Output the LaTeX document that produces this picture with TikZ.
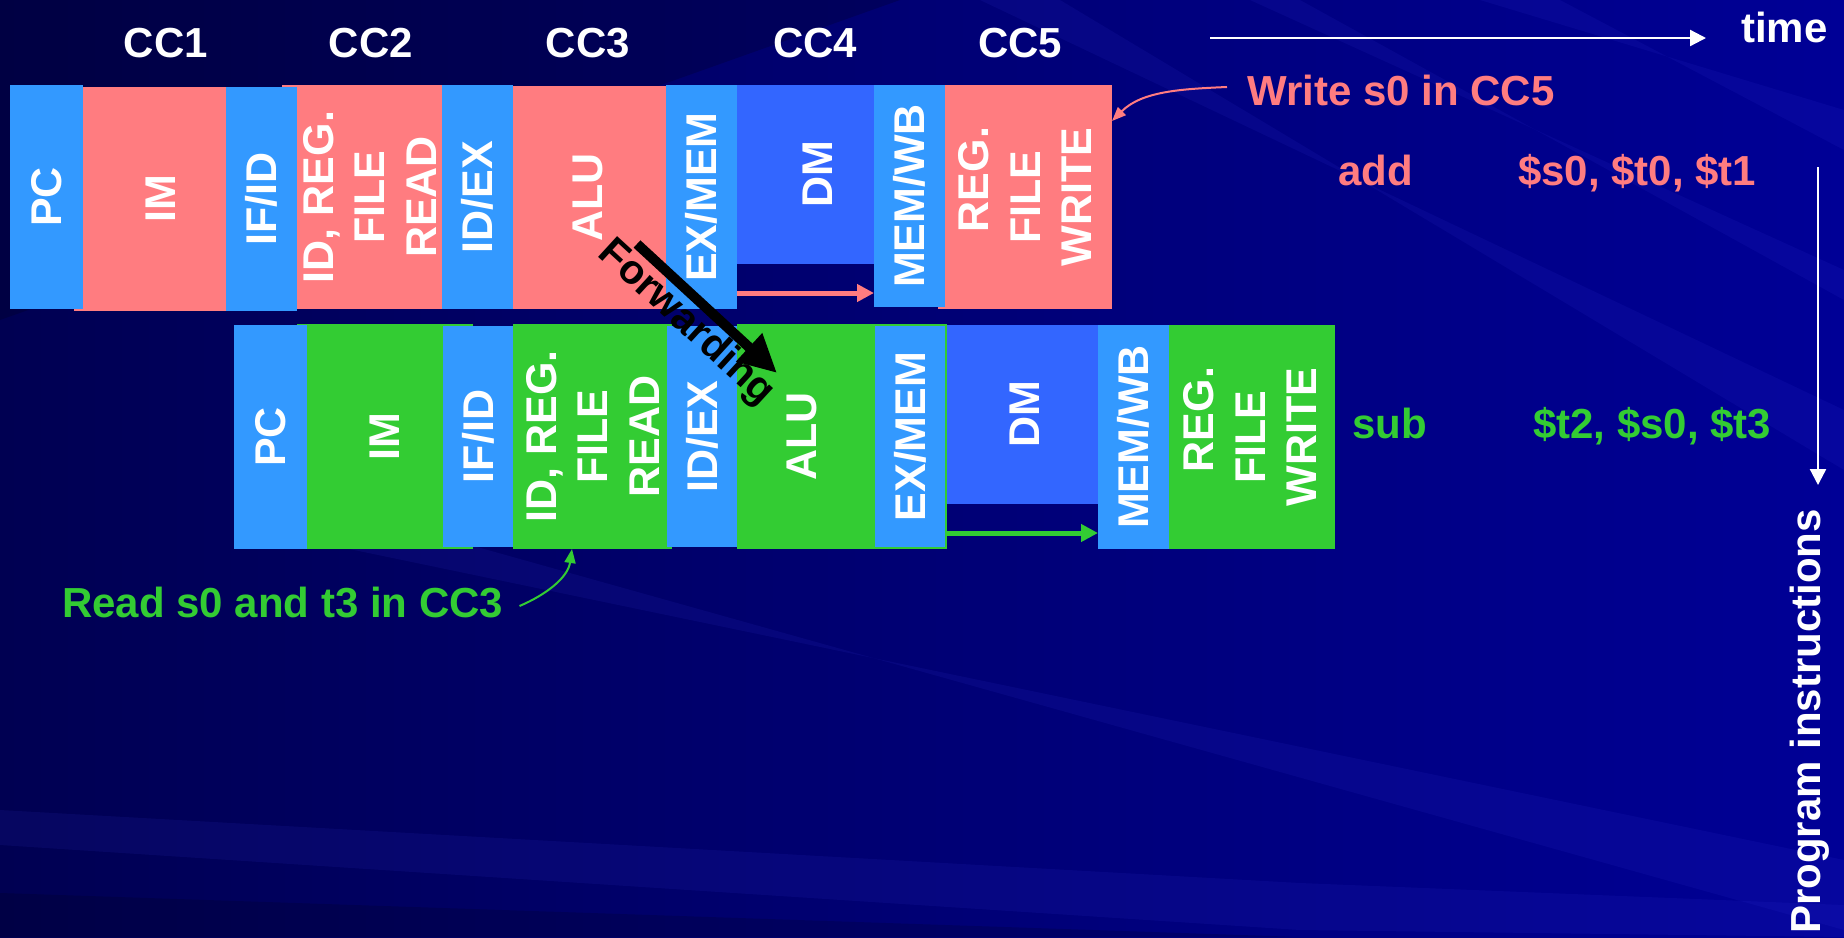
\documentclass[tikz,border=0pt]{standalone}
\usepackage{fontspec}
\setmainfont{Liberation Sans}
\usetikzlibrary{arrows.meta,calc}

\definecolor{regblue}{HTML}{3399FF}
\definecolor{dmblue}{HTML}{3366FF}
\definecolor{stpink}{HTML}{FF7C80}
\definecolor{stgreen}{HTML}{33CC33}
\definecolor{bgdark}{RGB}{0,0,82}
\definecolor{bglight}{RGB}{0,0,150}
\definecolor{streakc}{RGB}{60,60,230}

% a filled pipeline box given by its corners: name, x1, y1, x2, y2, colour
\newcommand\pipebox[6]{%
  \node[stagebox, fill=#6, minimum width={#4-#2}, minimum height={#5-#3}]
    (#1) at ({(#2+#4)/2},{(#3+#5)/2}) {};}

\begin{document}
\begin{tikzpicture}[x=1pt,y=-1pt,
  stagebox/.style={draw=none, inner sep=0pt, outer sep=0pt},
  vlab/.style={rotate=90, text=white, align=center, inner sep=0pt,
    font=\fontsize{43}{51.5}\selectfont\bfseries},
  cclab/.style={text=white, anchor=base, inner sep=0pt,
    font=\fontsize{42}{50}\selectfont\bfseries},
  note/.style={anchor=base west, inner sep=0pt,
    font=\fontsize{42}{50}\selectfont\bfseries},
  streak/.style={fill=streakc, opacity=0.10},
  axisarrow/.style={white, line width=2.3pt, -{Triangle[length=16pt,width=16pt]}},
  busarrow/.style={line width=5pt, -{Triangle[length=17pt,width=17pt]}},
  callout/.style={line width=2pt, -{Triangle[length=14pt,width=11pt]}},
]
% background
\useasboundingbox (0,0) rectangle (1844,937);
\shade[left color=bgdark, right color=bglight] (0,0) rectangle (1844,937);
\fill[black, opacity=0.18] (0,0) -- (900,0) -- (0,320) -- cycle;
\fill[streak] (980,0) -- (1060,0) -- (1844,470) -- (1844,410) -- cycle;
\fill[streak] (1250,0) -- (1300,0) -- (1844,300) -- (1844,270) -- cycle;
\fill[streak] (1480,0) -- (1560,0) -- (1844,150) -- (1844,110) -- cycle;
\fill[streak] (330,545) -- (470,545) -- (1844,930) -- (1844,860) -- cycle;
\fill[streak] (0,810) -- (1300,883) -- (1844,905) -- (1844,937) -- (1300,930) -- (0,845) -- cycle;
\fill[black, opacity=0.15] (0,893) -- (1300,937) -- (0,937) -- cycle;

% clock cycle headings and axes
\node[cclab] (cc1) at (166,57) {CC1};
\node[cclab] (cc2) at (371,57) {CC2};
\node[cclab] (cc3) at (588,57) {CC3};
\node[cclab] (cc4) at (815,57) {CC4};
\node[cclab] (cc5) at (1020,57) {CC5};
\node[note, text=white] (time) at (1741,42) {time};
\coordinate (t0) at (1210,38);
\coordinate (t1) at (1706,38);
\draw[axisarrow] (t0) -- (t1);
\coordinate (p0) at (1818,167);
\coordinate (p1) at (1818,485);
\draw[axisarrow] (p0) -- (p1);
\node[note, text=white, rotate=90] (prog) at (1820,934) {Program instructions};

% first instruction: add
\pipebox{im1}{74}{87}{248}{311}{stpink}
\pipebox{idreg1}{282}{85}{457}{309}{stpink}
\pipebox{alu1}{509}{86}{666}{309}{stpink}
\pipebox{dm1}{737}{85}{898}{264}{dmblue}
\pipebox{regw1}{938}{85}{1112}{309}{stpink}
\pipebox{pc1}{10}{85}{83}{309}{regblue}
\pipebox{ifid1}{226}{87}{297}{311}{regblue}
\pipebox{idex1}{442}{85}{513}{309}{regblue}
\pipebox{exmem1}{666}{85}{737}{309}{regblue}
\pipebox{memwb1}{874}{85}{945}{307}{regblue}

\node[vlab] at (pc1) {PC};
\node[vlab] at (im1) {IM};
\node[vlab] at (ifid1) {IF/ID};
\node[vlab] at (idreg1) {ID, REG.\\FILE\\READ};
\node[vlab] at (idex1) {ID/EX};
\node[vlab] at (alu1) {ALU};
\node[vlab] at (exmem1) {EX/MEM};
\node[vlab] at (dm1) {DM};
\node[vlab] at (memwb1) {MEM/WB};
\node[vlab] at (regw1) {\hspace*{35pt}REG.\\FILE\\WRITE};
\draw[busarrow, stpink] ([yshift=16pt]exmem1.south east)
  -- ([yshift=16pt]exmem1.south east -| memwb1.west);

% second instruction: sub
\pipebox{im2}{297}{324}{473}{549}{stgreen}
\pipebox{idreg2}{513}{324}{672}{549}{stgreen}
\pipebox{alu2}{737}{324}{947}{549}{stgreen}
\pipebox{dm2}{947}{325}{1103}{504}{dmblue}
\pipebox{regw2}{1169}{325}{1335}{549}{stgreen}
\pipebox{pc2}{234}{325}{307}{549}{regblue}
\pipebox{ifid2}{443}{326}{513}{547}{regblue}
\pipebox{idex2}{667}{326}{737}{547}{regblue}
\pipebox{exmem2}{875}{326}{945}{547}{regblue}
\pipebox{memwb2}{1098}{325}{1169}{549}{regblue}

\node[vlab] at (pc2) {PC};
\node[vlab] at (im2) {IM};
\node[vlab] at (ifid2) {IF/ID};
\node[vlab] at (idreg2) {ID, REG.\\FILE\\READ};
\node[vlab] at (idex2) {ID/EX};
\node[vlab] at ([xshift=-40.5pt]alu2.center) {ALU};
\node[vlab] at (exmem2) {EX/MEM};
\node[vlab] at (dm2) {DM};
\node[vlab] at (memwb2) {MEM/WB};
\node[vlab] at ([xshift=-2pt]regw2.center) {\hspace*{35pt}REG.\\FILE\\WRITE};
\draw[busarrow, stgreen] ([yshift=14pt]exmem2.south east)
  -- ([yshift=14pt]exmem2.south east -| memwb2.west);

% instruction text
\node[note, text=stpink] (addop) at (1338,185) {add};
\node[note, text=stpink] (addregs) at (1518,185) {\$s0, \$t0, \$t1};
\node[note, text=stgreen] (subop) at (1352,438) {sub};
\node[note, text=stgreen] (subregs) at (1533,438) {\$t2, \$s0, \$t3};

% callouts
\node[note, text=stpink] (wnote) at (1247,105) {Write s0 in CC5};
\draw[callout, stpink] ([xshift=-20pt,yshift=3pt]wnote.west)
  .. controls +(-45,2) and +(30,-30) .. ([yshift=-36pt]regw1.north east);
\node[note, text=stgreen] (rnote) at (62,617) {Read s0 and t3 in CC3};
\draw[callout, stgreen] ([xshift=16pt,yshift=-4pt]rnote.east)
  .. controls +(28,-12) and +(-4,28) .. ([xshift=-20.5pt]idreg2.south);

% forwarding path
\coordinate (fwd0) at (637,244);
\coordinate (fwd1) at (777,373);
\draw[black, line width=10pt, -{Triangle[length=38pt,width=36pt]}] (fwd0) -- (fwd1);
\node[rotate=-42.5, inner sep=0pt, font=\fontsize{41}{48}\selectfont\bfseries]
  (fwdlab) at (686,323) {Forwarding};
\end{tikzpicture}
\end{document}
